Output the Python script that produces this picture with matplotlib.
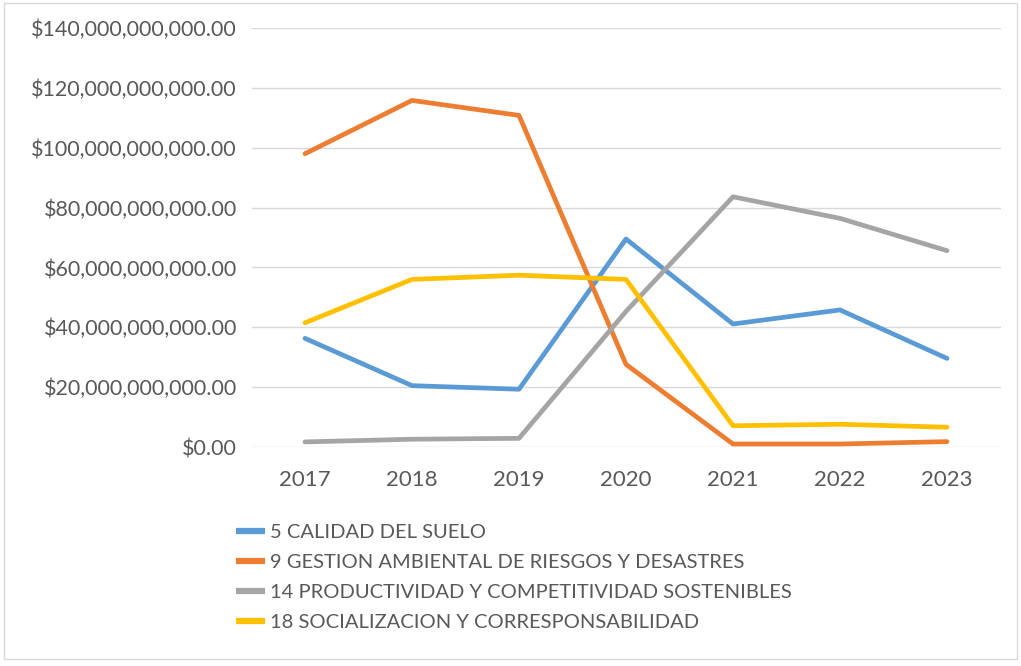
import matplotlib
matplotlib.use("Agg")
import matplotlib.pyplot as plt
from matplotlib.patches import Rectangle
from matplotlib.ticker import FuncFormatter

years = ["2017", "2018", "2019", "2020", "2021", "2022", "2023"]
calidad_suelo = [36.3e9, 20.5e9, 19.3e9, 69.5e9, 41.1e9, 45.8e9, 29.6e9]
gestion_riesgos = [98.0e9, 115.8e9, 110.8e9, 27.6e9, 1.0e9, 1.0e9, 1.8e9]
productividad = [1.7e9, 2.6e9, 2.9e9, 45.3e9, 83.6e9, 76.4e9, 65.6e9]
socializacion = [41.5e9, 56.0e9, 57.4e9, 56.0e9, 7.1e9, 7.6e9, 6.6e9]

labels = [
    "5 CALIDAD DEL SUELO",
    "9 GESTION AMBIENTAL DE RIESGOS Y DESASTRES",
    "14 PRODUCTIVIDAD Y COMPETITIVIDAD SOSTENIBLES",
    "18 SOCIALIZACION Y CORRESPONSABILIDAD",
]
colors = ["#5B9BD5", "#ED7D31", "#A5A5A5", "#FFC000"]
series = [calidad_suelo, gestion_riesgos, productividad, socializacion]

plt.rcParams["font.family"] = ["Lato", "DejaVu Sans"]
text_color = "#595959"

fig = plt.figure(figsize=(10.21, 6.66), dpi=100)
ax = fig.add_axes([251.5 / 1021, 1 - 447 / 666, 749 / 1021, 419 / 666])

x = list(range(len(years)))
lines = []
for vals, c, lab in zip(series, colors, labels):
    ln, = ax.plot(x, vals, color=c, lw=3.4, label=lab, solid_capstyle="round",
                  solid_joinstyle="round", zorder=3)
    lines.append(ln)

ax.set_xlim(-0.5, len(years) - 0.5)
ax.set_ylim(0, 140e9)
ax.set_yticks([i * 20e9 for i in range(8)])
ax.yaxis.set_major_formatter(FuncFormatter(lambda v, p: "${:,.2f}".format(v)))
ax.set_xticks(x)
ax.set_xticklabels(years)
ax.grid(axis="y", color="#d9d9d9", lw=1.0, zorder=0)
for s in ax.spines.values():
    s.set_visible(False)
ax.tick_params(axis="y", length=0, colors=text_color, labelsize=15.5, pad=10.5)
ax.tick_params(axis="x", length=0, colors=text_color, labelsize=16, pad=16.5)

leg = fig.legend(handles=lines, labels=labels, loc="upper left",
                 bbox_to_anchor=(236 / 1021, 1 - 524 / 666), frameon=False,
                 fontsize=14.5, handlelength=1.45, handletextpad=0.25,
                 labelspacing=0.64, borderpad=0, borderaxespad=0)
for t in leg.get_texts():
    t.set_color(text_color)
for h in leg.legend_handles:
    h.set_linewidth(4.5)
    h.set_solid_capstyle("butt")

fig.patches.append(Rectangle((4 / 1021, 1 - 659 / 666), 1013 / 1021, 656 / 666,
                             transform=fig.transFigure, fill=False,
                             edgecolor="#d9d9d9", lw=1.0))

fig.savefig("out.png", dpi=100)
